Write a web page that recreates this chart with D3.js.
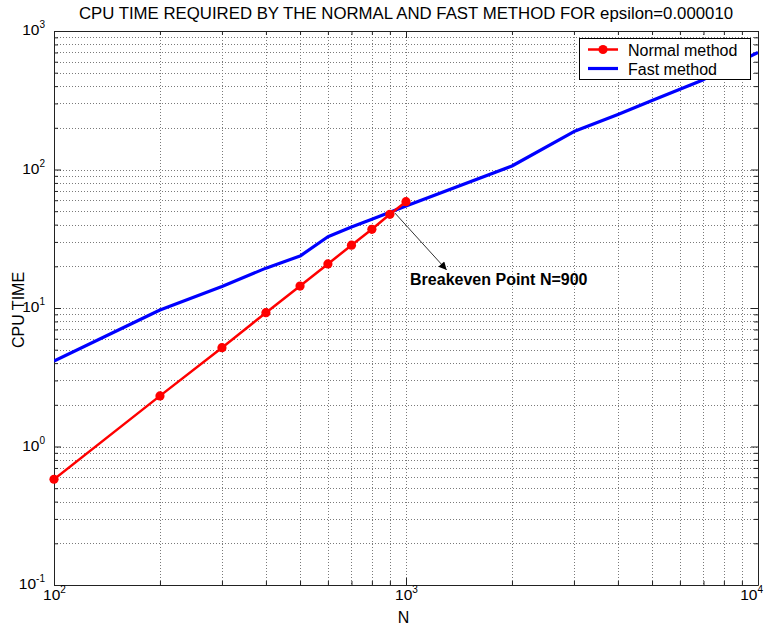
<!DOCTYPE html>
<html>
<head>
<meta charset="utf-8">
<script src="https://cdn.jsdelivr.net/npm/d3@7"></script>
<style>
  body { margin: 0; background: #fff; }
  text { font-family: "Liberation Sans", Arial, Helvetica, sans-serif; fill: #000; }
</style>
</head>
<body>
<svg id="chart" width="773" height="631"></svg>
<script>
// CPU time of the normal (direct) method, measured for N = 100 ... 1000
const normalN = [100, 200, 300, 400, 500, 600, 700, 800, 900, 1000];
const normalTime = [0.58, 2.32, 5.17, 9.25, 14.4, 20.8, 28.4, 37.0, 47.5, 58.6];

// CPU time of the fast method, measured for N = 100 ... 10000
const fastN = [100, 200, 300, 400, 500, 600, 700, 800, 900, 1000,
               2000, 3000, 4000, 5000, 6000, 7000, 8000, 9000, 10000];
const fastTime = [4.14, 9.67, 14.3, 19.4, 23.7, 32.7, 38.4, 43.7, 49.1, 54.5,
                  106, 188, 250, 315, 380, 445, 530, 615, 700];

// Decade tick labels
const xTickValues = [100, 1000, 10000];
const yTickValues = [0.1, 1, 10, 100, 1000];

// Annotation: breakeven between the two methods
const breakevenN = 900;
const breakevenLabel = "Breakeven Point N=" + breakevenN;
const arrowFrom = { n: 930, t: 48.5 };
const arrowTo = { n: 1305, t: 18.8 };
const labelAt = { n: 1027, t: 14.7 };

const titleText = "CPU TIME REQUIRED BY THE NORMAL AND FAST METHOD FOR epsilon=0.000010";
const seriesNames = ["Normal method", "Fast method"];
const colors = { normal: "#ff0000", fast: "#0000ff" };

const svg = d3.select("#chart");
const pLeft = 54, pRight = 758, pTop = 31, pBottom = 585;

const x = d3.scaleLog().domain([100, 10000]).range([pLeft, pRight]);
const y = d3.scaleLog().domain([0.1, 1000]).range([pBottom, pTop]);

svg.append("rect").attr("width", 773).attr("height", 631).attr("fill", "#fff");

// Dotted grid at every major and minor log tick
const grid = svg.append("g")
  .attr("stroke", "#7a7a7a").attr("stroke-width", 1)
  .attr("stroke-dasharray", "1,2").attr("shape-rendering", "crispEdges");
x.ticks().forEach(v => {
  const px = Math.round(x(v)) + 0.5;
  if (px > pLeft + 1 && px < pRight - 1)
    grid.append("line").attr("x1", px).attr("x2", px).attr("y1", pTop).attr("y2", pBottom);
});
y.ticks().forEach(v => {
  const py = Math.round(y(v)) + 0.5;
  if (py > pTop + 1 && py < pBottom - 1)
    grid.append("line").attr("y1", py).attr("y2", py).attr("x1", pLeft).attr("x2", pRight);
});

// Axes with inward ticks on all four sides
const isMajor = v => Math.abs(Math.log10(v) - Math.round(Math.log10(v))) < 1e-9;
const tickLen = v => isMajor(v) ? 7 : 4;

svg.append("g").attr("transform", `translate(0,${pBottom})`)
  .call(d3.axisBottom(x).tickValues(x.ticks()).tickFormat("").tickSizeOuter(0).tickSizeInner(0))
  .call(g => g.selectAll(".tick line").attr("y2", d => -tickLen(d)))
  .call(g => g.selectAll("path, line").attr("stroke", "#222"));
svg.append("g").attr("transform", `translate(0,${pTop})`)
  .call(d3.axisTop(x).tickValues(x.ticks()).tickFormat("").tickSizeOuter(0).tickSizeInner(0))
  .call(g => g.selectAll(".tick line").attr("y2", d => tickLen(d)))
  .call(g => g.selectAll("path, line").attr("stroke", "#222"));
svg.append("g").attr("transform", `translate(${pLeft},0)`)
  .call(d3.axisLeft(y).tickValues(y.ticks()).tickFormat("").tickSizeOuter(0).tickSizeInner(0))
  .call(g => g.selectAll(".tick line").attr("x2", d => tickLen(d)))
  .call(g => g.selectAll("path, line").attr("stroke", "#222"));
svg.append("g").attr("transform", `translate(${pRight},0)`)
  .call(d3.axisRight(y).tickValues(y.ticks()).tickFormat("").tickSizeOuter(0).tickSizeInner(0))
  .call(g => g.selectAll(".tick line").attr("x2", d => -tickLen(d)))
  .call(g => g.selectAll("path, line").attr("stroke", "#222"));

// Power-of-ten labels: "10" with a raised exponent
function powerLabel(sel, v) {
  const e = Math.round(Math.log10(v));
  sel.append("tspan").text("10");
  sel.append("tspan").attr("dy", -7).attr("font-size", 10).text(e);
}
xTickValues.forEach((v, i) => {
  const last = i === xTickValues.length - 1;
  const t = svg.append("text")
    .attr("x", last ? x(v) + 5 : x(v) + 0.5)
    .attr("y", pBottom + 15)
    .attr("text-anchor", last ? "end" : "middle")
    .attr("font-size", 15.5);
  powerLabel(t, v);
});
yTickValues.forEach(v => {
  const t = svg.append("text")
    .attr("x", pLeft - 9)
    .attr("y", y(v) + 4)
    .attr("text-anchor", "end")
    .attr("font-size", 15.5);
  powerLabel(t, v);
});

// Title and axis labels
svg.append("text").attr("x", (pLeft + pRight) / 2).attr("y", 19)
  .attr("text-anchor", "middle").attr("font-size", 16.8).text(titleText);
svg.append("text").attr("x", 403.5).attr("y", 623)
  .attr("text-anchor", "middle").attr("font-size", 16).text("N");
svg.append("text").attr("transform", "translate(24,310) rotate(-90)")
  .attr("text-anchor", "middle").attr("font-size", 16).text("CPU TIME");

// Data lines
svg.append("clipPath").attr("id", "plot-clip")
  .append("rect").attr("x", pLeft).attr("y", pTop)
  .attr("width", pRight - pLeft).attr("height", pBottom - pTop);

const line = d3.line().x(d => x(d[0])).y(d => y(d[1]));
const normalData = normalN.map((n, i) => [n, normalTime[i]]);
const fastData = fastN.map((n, i) => [n, fastTime[i]]);

const plot = svg.append("g").attr("clip-path", "url(#plot-clip)");
plot.append("path").datum(fastData).attr("d", line)
  .attr("fill", "none").attr("stroke", colors.fast).attr("stroke-width", 3.2)
  .attr("stroke-linejoin", "round");
plot.append("path").datum(normalData).attr("d", line)
  .attr("fill", "none").attr("stroke", colors.normal).attr("stroke-width", 2.5)
  .attr("stroke-linejoin", "round");
svg.append("g").selectAll("circle").data(normalData).join("circle")
  .attr("cx", d => x(d[0])).attr("cy", d => y(d[1])).attr("r", 4.6)
  .attr("fill", colors.normal);

// Breakeven annotation arrow and label
const defs = svg.append("defs");
defs.append("marker").attr("id", "arrowhead")
  .attr("viewBox", "0 0 10 10").attr("refX", 10).attr("refY", 5)
  .attr("markerWidth", 10).attr("markerHeight", 8).attr("markerUnits", "userSpaceOnUse")
  .attr("orient", "auto")
  .append("path").attr("d", "M0,0 L10,5 L0,10 Z").attr("fill", "#000");
svg.append("line")
  .attr("x1", x(arrowFrom.n)).attr("y1", y(arrowFrom.t))
  .attr("x2", x(arrowTo.n)).attr("y2", y(arrowTo.t))
  .attr("stroke", "#333").attr("stroke-width", 1)
  .attr("marker-end", "url(#arrowhead)");
svg.append("text").attr("x", x(labelAt.n)).attr("y", y(labelAt.t))
  .attr("font-size", 16).attr("font-weight", "bold").text(breakevenLabel);

// Legend
const legend = svg.append("g");
legend.append("rect").attr("x", 579.5).attr("y", 38.5).attr("width", 171).attr("height", 41)
  .attr("fill", "#fff").attr("stroke", "#000").attr("stroke-width", 1);
const legendRows = [
  { name: seriesNames[0], color: colors.normal, width: 2.5, marker: true, y: 49.5 },
  { name: seriesNames[1], color: colors.fast, width: 3.2, marker: false, y: 68.5 }
];
legendRows.forEach(r => {
  legend.append("line").attr("x1", 588).attr("x2", 618).attr("y1", r.y).attr("y2", r.y)
    .attr("stroke", r.color).attr("stroke-width", r.width);
  if (r.marker)
    legend.append("circle").attr("cx", 603).attr("cy", r.y).attr("r", 4.6).attr("fill", r.color);
  legend.append("text").attr("x", 628).attr("y", r.y + 6.5).attr("font-size", 16).text(r.name);
});
</script>
</body>
</html>
